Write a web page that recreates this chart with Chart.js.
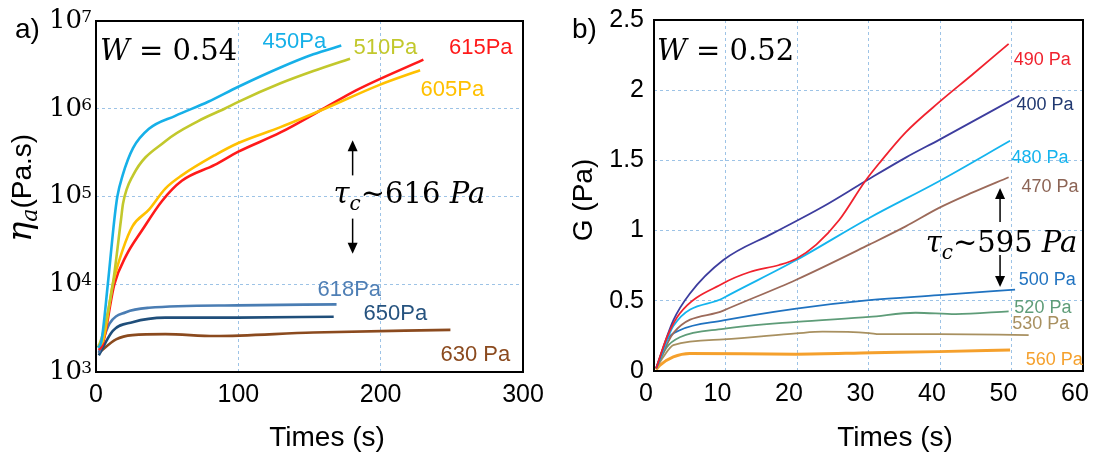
<!DOCTYPE html>
<html>
<head>
<meta charset="utf-8">
<script src="https://cdn.jsdelivr.net/npm/chart.js@4.4.1/dist/chart.umd.min.js"></script>
<style>
  html, body { margin: 0; padding: 0; background: #fff; overflow: hidden; }
  #wrap { position: relative; width: 1094px; height: 459px; }
  canvas { position: absolute; top: 0; }
  #chartA { left: 0; }
  #chartB { left: 547px; }
</style>
</head>
<body>
<div id="wrap">
  <canvas id="chartA" width="547" height="459"></canvas>
  <canvas id="chartB" width="547" height="459"></canvas>
</div>
<script>
// Panel a: apparent viscosity (Pa.s) vs time (s), log scale
const t450 = [1.5, 3.7, 8.3, 12.9, 15, 18.7, 26, 37.2, 55.7, 78.8, 100, 129.6, 152.7, 172.3];
const eta450 = [1.9e3, 2.2e3, 1.0e4, 5.5e4, 1.0e5, 1.74e5, 3.55e5, 5.9e5, 8.3e5, 1.2e6, 1.78e6, 2.95e6, 4.17e6, 5.25e6];
const t510 = [1.5, 4.8, 11.8, 17.6, 19, 26, 48.7, 71.8, 90.3, 100, 129.6, 152.7, 178.5];
const eta510 = [1.9e3, 2.7e3, 1.0e4, 5.5e4, 8.3e4, 1.74e5, 4.27e5, 7.24e5, 1.0e6, 1.2e6, 1.95e6, 2.69e6, 3.72e6];
const t605 = [1.5, 4.8, 11.8, 18.7, 25.6, 37.2, 48.7, 60.3, 83.4, 100, 129.6, 160.7, 198.8, 227.7];
const eta605 = [2.0e3, 2.24e3, 1.0e4, 2.45e4, 4.57e4, 7.08e4, 1.23e5, 1.74e5, 2.95e5, 4.07e5, 6.17e5, 1.0e6, 1.86e6, 2.75e6];
const t615 = [2, 4.8, 12.9, 21, 32.6, 46.4, 60.3, 83.4, 100, 129.6, 160.7, 182.7, 230];
const eta615 = [1.78e3, 2.09e3, 1.0e4, 2.09e4, 4.17e4, 8.9e4, 1.51e5, 2.29e5, 3.24e5, 5.37e5, 1.02e6, 1.62e6, 3.63e6];
const t618 = [2, 9.5, 21, 37.2, 99.5, 169];
const eta618 = [1.66e3, 3.55e3, 4.8e3, 5.4e3, 5.75e3, 5.9e3];
const t650 = [2, 11.8, 25.6, 48.7, 99.5, 167];
const eta650 = [1.55e3, 2.95e3, 3.7e3, 4.17e3, 4.17e3, 4.27e3];
const t630 = [2, 14.1, 25.6, 48.7, 83.4, 152.7, 249];
const eta630 = [1.65e3, 2.35e3, 2.63e3, 2.7e3, 2.57e3, 2.82e3, 3.02e3];
const etaTicks = [1e3, 1e4, 1e5, 1e6, 1e7];

// Panel b: G (Pa) vs time (s)
const t490 = [0.3, 1.8, 3.6, 9.7, 13.4, 17.5, 19.9, 22.7, 25.9, 29.5, 31.5, 35.2, 40, 44.5, 49.6];
const g490 = [0.02, 0.24, 0.41, 0.625, 0.705, 0.755, 0.80, 0.90, 1.075, 1.35, 1.48, 1.70, 1.92, 2.11, 2.33];
const t400 = [0.3, 2.7, 5.0, 9.7, 16.6, 23.6, 29.5, 35.2, 40, 51.1];
const g400 = [0.02, 0.36, 0.55, 0.79, 0.98, 1.17, 1.35, 1.52, 1.65, 1.96];
const t480 = [0.3, 0.8, 2.7, 9.7, 19.9, 30.1, 39.8, 49.8];
const g480 = [0.02, 0.08, 0.32, 0.52, 0.79, 1.09, 1.35, 1.64];
const t470 = [0.3, 2.7, 9.7, 19.9, 30.1, 35.2, 39.8, 44.5, 49.6];
const g470 = [0.02, 0.27, 0.43, 0.65, 0.90, 1.03, 1.16, 1.27, 1.38];
const t500 = [0.3, 1.8, 3.6, 9.7, 19.9, 30.1, 39.8, 50.5];
const g500 = [0.02, 0.22, 0.29, 0.36, 0.445, 0.505, 0.54, 0.58];
const t520 = [0.3, 1.8, 3.6, 9.7, 19.9, 30.1, 36.6, 42.2, 49.6];
const g520 = [0.02, 0.17, 0.24, 0.30, 0.35, 0.385, 0.415, 0.405, 0.425];
const t530 = [0.3, 1.3, 2.7, 9.7, 19.9, 23.6, 30.1, 31.5, 39.8, 52.4];
const g530 = [0.02, 0.10, 0.185, 0.225, 0.268, 0.28, 0.27, 0.262, 0.262, 0.256];
const t560 = [0.3, 0.8, 2.7, 5.0, 19.9, 30.5, 39.8, 49.8];
const g560 = [0.01, 0.04, 0.10, 0.125, 0.12, 0.13, 0.138, 0.15];

const gridCol = '#9dc3e6';
const SANS = '"Liberation Sans", Arial, sans-serif';
const SERIF = '"DejaVu Serif", serif';

const pts = (xs, ys) => xs.map((x, i) => ({ x, y: ys[i] }));

const seriesA = [
  { t: t450, v: eta450, c: '#16b0e8' },
  { t: t510, v: eta510, c: '#c2c82c' },
  { t: t605, v: eta605, c: '#ffc000' },
  { t: t615, v: eta615, c: '#ff1a1a' },
  { t: t618, v: eta618, c: '#4a7db3' },
  { t: t650, v: eta650, c: '#1f4e7a' },
  { t: t630, v: eta630, c: '#8b4a1e' }
];
const seriesB = [
  { t: t490, v: g490, c: '#f0222e', w: 1.8 },
  { t: t400, v: g400, c: '#3d3d9e', w: 1.8 },
  { t: t480, v: g480, c: '#14b4ee', w: 1.8 },
  { t: t470, v: g470, c: '#9c6a5a', w: 1.8 },
  { t: t500, v: g500, c: '#1f72c0', w: 1.8 },
  { t: t520, v: g520, c: '#5e9c78', w: 1.8 },
  { t: t530, v: g530, c: '#a89060', w: 1.8 },
  { t: t560, v: g560, c: '#f5a02c', w: 3 }
];

// series name labels, anchored in data units (left edge, vertical middle)
const labelsA = [
  ['450Pa', 117, 5.7e6, '#16b0e8'], ['510Pa', 181, 4.9e6, '#c2c82c'],
  ['615Pa', 248, 4.9e6, '#ff1a1a'], ['605Pa', 228, 1.62e6, '#ffc000'],
  ['618Pa', 155.6, 8650, '#4f7fb5'], ['650Pa', 188, 4570, '#26537f'],
  ['630 Pa', 242, 1570, '#8b4a1e']
];
const labelsB = [
  ['490 Pa', 50.3, 2.215, '#f0222e'], ['400 Pa', 50.7, 1.895, '#203870'],
  ['480 Pa', 50.0, 1.517, '#14b4ee'], ['470 Pa', 51.4, 1.31, '#8c6455'],
  ['500 Pa', 51, 0.648, '#1f72c0'], ['520 Pa', 50.4, 0.449, '#5e9c78'],
  ['530 Pa', 50.1, 0.335, '#a89060'], ['560 Pa', 52, 0.078, '#f5a02c']
];

function rich(ctx, x, y, parts, align) {
  let w = 0;
  parts.forEach(p => { ctx.font = p.f; p.w = ctx.measureText(p.t).width; w += p.w; });
  let cx = align === 'center' ? x - w / 2 : x;
  ctx.textAlign = 'left';
  parts.forEach(p => { ctx.font = p.f; ctx.fillText(p.t, cx, y + (p.dy || 0)); cx += p.w; });
}

function arrow(ctx, x, y0, y1) {
  const dir = Math.sign(y1 - y0);
  ctx.strokeStyle = '#000'; ctx.fillStyle = '#000'; ctx.lineWidth = 1.5;
  ctx.beginPath(); ctx.moveTo(x, y0); ctx.lineTo(x, y1 - dir * 9); ctx.stroke();
  ctx.beginPath(); ctx.moveTo(x, y1); ctx.lineTo(x - 5, y1 - dir * 11); ctx.lineTo(x + 5, y1 - dir * 11);
  ctx.closePath(); ctx.fill();
}

function deco(spec) {
  return {
    id: 'deco',
    afterDraw(chart) {
      const { ctx, chartArea: a, scales: { x, y } } = chart;
      ctx.save();
      // frame
      ctx.strokeStyle = '#000'; ctx.lineWidth = 2;
      ctx.strokeRect(a.left, a.top, a.right - a.left, a.bottom - a.top);
      // decade exponents next to the "10" tick labels
      if (spec.exponents) {
        ctx.fillStyle = '#000'; ctx.textAlign = 'right'; ctx.textBaseline = 'alphabetic';
        ctx.font = '17px ' + SERIF;
        y.ticks.forEach(tk => {
          ctx.fillText(String(Math.round(Math.log10(tk.value))), a.left - 4, y.getPixelForValue(tk.value) + 1);
        });
      }
      // series labels
      ctx.textBaseline = 'middle';
      spec.labels.forEach(([txt, lx, ly, col]) => {
        ctx.fillStyle = col; ctx.font = spec.labelFont; ctx.textAlign = 'left';
        ctx.fillText(txt, x.getPixelForValue(lx), y.getPixelForValue(ly));
      });
      // W annotation and critical stress
      ctx.textBaseline = 'alphabetic'; ctx.fillStyle = '#000';
      rich(ctx, x.getPixelForValue(spec.w[0]), y.getPixelForValue(spec.w[1]), [
        { t: 'W', f: 'italic 29px ' + SERIF }, { t: ' = ' + spec.w[2], f: '29px ' + SERIF }
      ]);
      rich(ctx, x.getPixelForValue(spec.tau[0]), y.getPixelForValue(spec.tau[1]), [
        { t: 'τ', f: 'italic 29px ' + SERIF }, { t: 'c', f: 'italic 20px ' + SERIF, dy: 7 },
        { t: '~' + spec.tau[2] + ' ', f: '29px ' + SERIF }, { t: 'Pa', f: 'italic 29px ' + SERIF }
      ]);
      const ax = x.getPixelForValue(spec.arrows[0]);
      arrow(ctx, ax, y.getPixelForValue(spec.arrows[1]), y.getPixelForValue(spec.arrows[2]));
      arrow(ctx, ax, y.getPixelForValue(spec.arrows[3]), y.getPixelForValue(spec.arrows[4]));
      // panel letter
      ctx.fillStyle = '#000'; ctx.textAlign = 'left';
      ctx.font = '28px ' + SANS;
      ctx.fillText(spec.letter[0], spec.letter[1], 38);
      // x title
      ctx.textAlign = 'center'; ctx.textBaseline = 'middle';
      ctx.fillText('Times (s)', spec.xTitle[0], spec.xTitle[1]);
      // y title
      ctx.translate(spec.yTitle[0], spec.yTitle[1]);
      ctx.rotate(-Math.PI / 2);
      ctx.textBaseline = 'alphabetic';
      rich(ctx, 0, 0, spec.yTitle[2], 'center');
      ctx.restore();
    }
  };
}

function fixAxisX(h) {
  return s => { s.height = h; s.paddingLeft = 0; s.paddingRight = 0; };
}
function fixAxisY(w) {
  return s => { s.width = w; s.paddingTop = 0; s.paddingBottom = 0; };
}

const tickFont = { family: SANS, size: 25 };

new Chart(document.getElementById('chartA'), {
  type: 'line',
  data: {
    datasets: seriesA.map(s => ({
      data: pts(s.t, s.v), borderColor: s.c, borderWidth: 2.6, pointRadius: 0,
      cubicInterpolationMode: 'monotone', fill: false
    }))
  },
  options: {
    responsive: false, animation: false, devicePixelRatio: 1, events: [],
    layout: { padding: { top: 21, right: 24, left: 0, bottom: 0 } },
    plugins: { legend: { display: false }, tooltip: { enabled: false } },
    scales: {
      x: {
        type: 'linear', min: 0, max: 300,
        ticks: { stepSize: 100, padding: 8, color: '#000', font: tickFont },
        grid: { color: gridCol, drawTicks: false, lineWidth: 1 },
        border: { display: false, dash: [3, 3] },
        afterFit: fixAxisX(87)
      },
      y: {
        type: 'logarithmic', min: 1e3, max: 1e7,
        afterBuildTicks: s => { s.ticks = etaTicks.map(v => ({ value: v })); },
        ticks: {
          padding: 14, color: '#000', font: { family: SERIF, size: 26 },
          callback: () => '10'
        },
        grid: { color: gridCol, drawTicks: false, lineWidth: 1 },
        border: { display: false, dash: [3, 3] },
        afterFit: fixAxisY(96)
      }
    }
  },
  plugins: [deco({
    labels: labelsA, labelFont: '22px ' + SANS, exponents: true,
    w: [2.8, 3.55e6, '0.54'],
    tau: [166.9, 8.5e4, '616'],
    arrows: [180.3, 1.74e5, 4.37e5, 5.6e4, 2.23e4],
    letter: ['a)', 15],
    xTitle: [327, 438],
    yTitle: [31, 188, [
      { t: 'η', f: 'italic 34px ' + SERIF },
      { t: 'a', f: 'italic 22px ' + SERIF, dy: 6 },
      { t: '(Pa.s)', f: '28px ' + SANS }
    ]]
  })]
});

new Chart(document.getElementById('chartB'), {
  type: 'line',
  data: {
    datasets: seriesB.map(s => ({
      data: pts(s.t, s.v), borderColor: s.c, borderWidth: s.w, pointRadius: 0,
      cubicInterpolationMode: 'monotone', fill: false
    }))
  },
  options: {
    responsive: false, animation: false, devicePixelRatio: 1, events: [],
    layout: { padding: { top: 20, right: 11, left: 0, bottom: 0 } },
    plugins: { legend: { display: false }, tooltip: { enabled: false } },
    scales: {
      x: {
        type: 'linear', min: 0, max: 60,
        ticks: { stepSize: 10, padding: 8, labelOffset: -8, color: '#000', font: tickFont },
        grid: { color: gridCol, drawTicks: false, lineWidth: 1 },
        border: { display: false, dash: [3, 3] },
        afterFit: fixAxisX(88)
      },
      y: {
        type: 'linear', min: 0, max: 2.5,
        ticks: { stepSize: 0.5, padding: 10, color: '#000', font: tickFont, callback: v => String(v) },
        grid: { color: gridCol, drawTicks: false, lineWidth: 1 },
        border: { display: false, dash: [3, 3] },
        afterFit: fixAxisY(107)
      }
    }
  },
  plugins: [deco({
    labels: labelsB, labelFont: '18px ' + SANS,
    w: [0.42, 2.215, '0.52'],
    tau: [38.0, 0.848, '595'],
    arrows: [48.4, 1.061, 1.303, 0.826, 0.598],
    letter: ['b)', 25],
    xTitle: [348, 438],
    yTitle: [45, 200, [{ t: 'G (Pa)', f: '28px ' + SANS }]]
  })]
});
</script>
</body>
</html>
